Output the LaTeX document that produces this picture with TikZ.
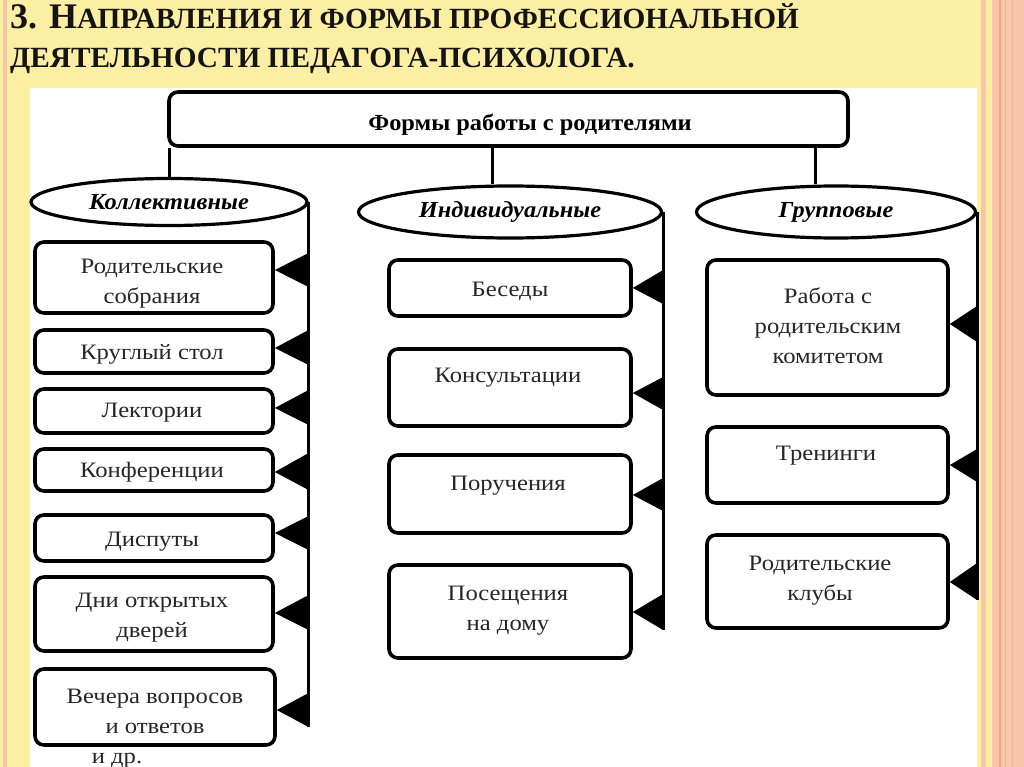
\documentclass[tikz,border=0pt]{standalone}
\usepackage{fontspec}
\setmainfont{Liberation Serif}
\newfontfamily\boxfont[FakeStretch=1.12]{Liberation Serif}
\newfontfamily\headfont[FakeStretch=1.06]{Liberation Serif}
\usetikzlibrary{shapes.geometric,calc}
\definecolor{bgyellow}{RGB}{252,239,163}
\definecolor{peach}{RGB}{247,197,168}
\definecolor{peachdark}{RGB}{234,168,138}
\definecolor{titleink}{RGB}{20,20,20}
\begin{document}
\begin{tikzpicture}[x=1pt,y=-1pt,
  box/.style={draw=black,line width=3.6pt,rounded corners=9pt,fill=white,inner sep=0pt},
  txt/.style={font=\boxfont\fontsize{22}{30}\selectfont,align=center,inner sep=0pt,text=black!85,yshift=-3pt},
  ell/.style={ellipse,draw=black,line width=3.2pt,fill=white,inner sep=0pt,
              font=\headfont\fontsize{23}{24}\selectfont\bfseries\itshape},
  conn/.style={line width=3pt},
  tri/.style={fill=black}]
\useasboundingbox (0,0) rectangle (1024,767);
\clip (0,0) rectangle (1024,767);
% background
\fill[bgyellow] (0,0) rectangle (1024,767);
\fill[peach] (3,0) rectangle (7,767);
\fill[peach] (981,0) rectangle (986,767);
\fill[peach] (992,0) rectangle (1024,767);
\fill[peachdark] (999,0) rectangle (1001,767);
\fill[peachdark!60!peach] (1005,0) rectangle (1006,767);
\fill[peachdark!60!peach] (1012,0) rectangle (1013,767);
\fill[white] (30,88) rectangle (977,767);
% title
\node[anchor=base west,inner sep=0pt,text=titleink] (title1) at (10,29)
  {\fontsize{36}{36}\selectfont\bfseries 3. Н\fontsize{29.3}{29.3}\selectfont АПРАВЛЕНИЯ И ФОРМЫ ПРОФЕССИОНАЛЬНОЙ};
\node[anchor=base west,inner sep=0pt,text=titleink] (title2) at (10,68)
  {\fontsize{29.3}{29.3}\selectfont\bfseries ДЕЯТЕЛЬНОСТИ ПЕДАГОГА-ПСИХОЛОГА.};
% top box
\node[box,minimum width=679pt,minimum height=54pt] (top) at (508.5,119) {};
\node[inner sep=0pt,font=\headfont\fontsize{23}{24}\selectfont\bfseries] (toptxt) at (530,125) {Формы работы с родителями};
% ellipses
\node[ell,minimum width=276pt,minimum height=47pt] (e1) at (169,202) {Коллективные};
\node[ell,minimum width=303pt,minimum height=52pt] (e2) at (510,212) {Индивидуальные};
\node[ell,minimum width=279pt,minimum height=52pt] (e3) at (836,212) {Групповые};
% connectors from top box
\draw[conn] (top.south -| e1.north) -- (e1.north);
\coordinate (m2) at (492,0);
\draw[conn] (top.south -| m2) -- (e2.north -| m2);
\coordinate (m3) at (815,0);
\draw[conn] (top.south -| m3) -- (e3.north -| m3);
% column lines
\coordinate (endL) at (307,727);
\coordinate (endM) at (662,630);
\coordinate (endR) at (975,600);
\draw[conn] (e1.east) -- (e1.east |- endL);
\draw[conn] (e2.east) -- (e2.east |- endM);
\draw[conn] (e3.east) -- (e3.east |- endR);
% left column
\node[box,minimum width=238pt,minimum height=71pt] (c1) at (154,277.5) {};
\node[box,minimum width=238pt,minimum height=43pt] (c2) at (154,351.5) {};
\node[box,minimum width=238pt,minimum height=44pt] (c3) at (154,411) {};
\node[box,minimum width=238pt,minimum height=42pt] (c4) at (154,470) {};
\node[box,minimum width=238pt,minimum height=46pt] (c5) at (154,538) {};
\node[box,minimum width=238pt,minimum height=74pt] (c6) at (154,614) {};
\node[box,minimum width=240pt,minimum height=76pt] (c7) at (155,707) {};
\node[txt] (c1t) at (152,281) {Родительские\\собрания};
\node[txt] (c2t) at (152,351) {Круглый стол};
\node[txt] (c3t) at (152,410) {Лектории};
\node[txt] (c4t) at (152,469) {Конференции};
\node[txt] (c5t) at (152,539) {Диспуты};
\node[txt] (c6t) at (152,615) {Дни открытых\\дверей};
\node[txt] (c7t) at (155,708) {Вечера вопросов\\и ответов};
\node[txt,anchor=base,yshift=3pt] (more) at (117,763) {и др.};
\fill[tri] (e1.east |- 0,253) -- (e1.east |- 0,287) -- (c1.east |- 0,270) -- cycle;
\fill[tri] (e1.east |- 0,330) -- (e1.east |- 0,365) -- (c2.east |- 0,348) -- cycle;
\fill[tri] (e1.east |- 0,390) -- (e1.east |- 0,425) -- (c3.east |- 0,408) -- cycle;
\fill[tri] (e1.east |- 0,453) -- (e1.east |- 0,490) -- (c4.east |- 0,472) -- cycle;
\fill[tri] (e1.east |- 0,516) -- (e1.east |- 0,550) -- (c5.east |- 0,533) -- cycle;
\fill[tri] (e1.east |- 0,595) -- (e1.east |- 0,630) -- (c6.east |- 0,613) -- cycle;
\fill[tri] (e1.east |- 0,693) -- (e1.east |- endL) -- (c7.east |- 0,710) -- cycle;
% middle column
\node[box,minimum width=242pt,minimum height=56pt] (i1) at (510,288) {};
\node[box,minimum width=242pt,minimum height=77pt] (i2) at (510,387.5) {};
\node[box,minimum width=242pt,minimum height=78pt] (i3) at (510,494) {};
\node[box,minimum width=242pt,minimum height=93pt] (i4) at (510,611.5) {};
\node[txt] (i1t) at (510,288) {Беседы};
\node[txt] (i2t) at (508,375) {Консультации};
\node[txt] (i3t) at (508,483) {Поручения};
\node[txt] (i4t) at (508,608) {Посещения\\на дому};
\fill[tri] (e2.east |- 0,270) -- (e2.east |- 0,304) -- (i1.east |- 0,288) -- cycle;
\fill[tri] (e2.east |- 0,377) -- (e2.east |- 0,410) -- (i2.east |- 0,393) -- cycle;
\fill[tri] (e2.east |- 0,478) -- (e2.east |- 0,511) -- (i3.east |- 0,495) -- cycle;
\fill[tri] (e2.east |- 0,594) -- (e2.east |- endM) -- (i4.east |- 0,612) -- cycle;
% right column
\node[box,minimum width=241pt,minimum height=135pt] (g1) at (827.5,327.5) {};
\node[box,minimum width=241pt,minimum height=76pt] (g2) at (827.5,465) {};
\node[box,minimum width=241pt,minimum height=93pt] (g3) at (827.5,581.5) {};
\node[txt] (g1t) at (828,323) {Работа с\\родительским\\комитетом};
\node[txt] (g2t) at (826,453) {Тренинги};
\node[txt] (g3t) at (820,578) {Родительские\\клубы};
\fill[tri] (e3.east |- 0,306) -- (e3.east |- 0,342) -- (g1.east |- 0,324) -- cycle;
\fill[tri] (e3.east |- 0,449) -- (e3.east |- 0,482) -- (g2.east |- 0,465) -- cycle;
\fill[tri] (e3.east |- 0,563) -- (e3.east |- endR) -- (g3.east |- 0,582) -- cycle;
\end{tikzpicture}
\end{document}
